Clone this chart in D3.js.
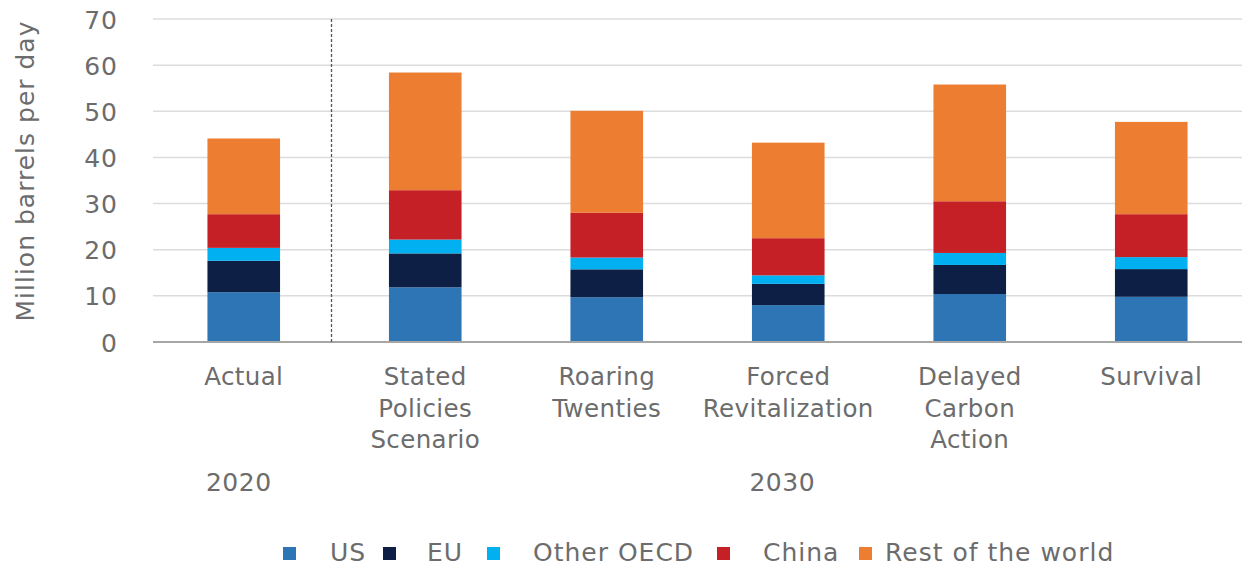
<!DOCTYPE html>
<html><head><meta charset="utf-8">
<script src="https://cdn.jsdelivr.net/npm/d3@7"></script>
<style>body{margin:0;background:#fff}svg{display:block}text{font-family:"DejaVu Sans","Noto Sans",sans-serif;fill:#6c6c6c}</style>
</head><body><svg id="c" width="1248" height="568"></svg>
<script>
const categories = [["Actual"],["Stated","Policies","Scenario"],["Roaring","Twenties"],["Forced","Revitalization"],["Delayed","Carbon","Action"],["Survival"]];
const seriesNames = ["US","EU","Other OECD","China","Rest of the world"];
const us = [10.8, 11.85, 9.7, 8.0, 10.4, 9.8];
const eu = [6.8, 7.35, 6.05, 4.6, 6.3, 6.0];
const otherOECD = [2.8, 3.0, 2.55, 1.85, 2.6, 2.6];
const china = [7.3, 10.7, 9.7, 8.05, 11.2, 9.3];
const rest = [16.4, 25.5, 22.1, 20.7, 25.3, 20.0];
const yTicks = [0,10,20,30,40,50,60,70];
const years = [{label:"2020", from:0, to:0},{label:"2030", from:1, to:5}];
const colors = ["#2e75b6","#0e1f45","#00b0f0","#c52026","#ed7d31"];

const seriesVals = [us, eu, otherOECD, china, rest];
const rows = categories.map((c,i)=>{const o={key:i}; seriesNames.forEach((s,j)=>o[s]=seriesVals[j][i]); return o;});
const stacked = d3.stack().keys(seriesNames)(rows);

const svg = d3.select("#c");
const x = d3.scaleBand().domain(d3.range(categories.length)).range([153,1242]).paddingInner(0.6).paddingOuter(0.3);
const y = d3.scaleLinear().domain([0,70]).range([342,19]);

// gridlines
svg.append("g").selectAll("line").data(yTicks.filter(t=>t>0)).join("line")
  .attr("x1",153).attr("x2",1242).attr("y1",d=>y(d)).attr("y2",d=>y(d))
  .attr("stroke","#dcdcdc").attr("stroke-width",1.5);

// y axis labels
const yAxis = svg.append("g").attr("transform","translate(153,0)")
  .call(d3.axisLeft(y).tickValues(yTicks).tickSize(0).tickPadding(35));
yAxis.select(".domain").remove();
yAxis.selectAll("text").attr("font-size",25).attr("fill","#6c6c6c").attr("letter-spacing",1)
  .attr("dy","0.36em").style("font-family",'"DejaVu Sans","Noto Sans",sans-serif');

// bars
svg.append("g").selectAll("g").data(stacked).join("g").attr("fill",(d,i)=>colors[i])
  .selectAll("rect").data(d=>d).join("rect")
  .attr("x",(d,i)=>x(i)).attr("width",x.bandwidth())
  .attr("y",d=>y(d[1])).attr("height",d=>y(d[0])-y(d[1]));

// baseline
svg.append("line").attr("x1",153).attr("x2",1242).attr("y1",y(0)).attr("y2",y(0)).attr("stroke","#a6a6a6").attr("stroke-width",2);

// divider
const divX = x(0)+x.bandwidth()+ (x.step()-x.bandwidth())/2 - 3;
svg.append("line").attr("x1",divX).attr("x2",divX).attr("y1",y(70)).attr("y2",y(0))
  .attr("stroke","#555").attr("stroke-width",1.3).attr("stroke-dasharray","3,2");

// category labels
const cl = svg.append("g");
categories.forEach((lines,i)=>{
  const cx = x(i)+x.bandwidth()/2;
  const t = cl.append("text").attr("text-anchor","middle").attr("font-size",24.5).attr("letter-spacing",0.4)
    .attr("x",cx).attr("y",385);
  lines.forEach((ln,k)=>t.append("tspan").attr("x",cx).attr("dy",k===0?0:31.5).text(ln));
});

// year labels
years.forEach(yr=>{
  const cx = (x(yr.from)+x(yr.to)+x.bandwidth())/2 - (yr.from===yr.to?5:6);
  svg.append("text").attr("text-anchor","middle").attr("font-size",25).attr("letter-spacing",0.5)
    .attr("x",cx).attr("y",491).text(yr.label);
});

// y title
svg.append("text").attr("transform","translate(34,171) rotate(-90)").attr("text-anchor","middle")
  .attr("font-size",25).attr("letter-spacing",1).text("Million barrels per day");

// legend
const legX = [283, 383, 487, 717, 859];
const legTextX = [330, 427, 533, 763, 885];
seriesNames.forEach((s,i)=>{
  svg.append("rect").attr("x",legX[i]).attr("y",547).attr("width",13).attr("height",13).attr("fill",colors[i]);
  svg.append("text").attr("x",legTextX[i]).attr("y",561).attr("font-size",25).attr("letter-spacing",1).text(s);
});
</script></body></html>
